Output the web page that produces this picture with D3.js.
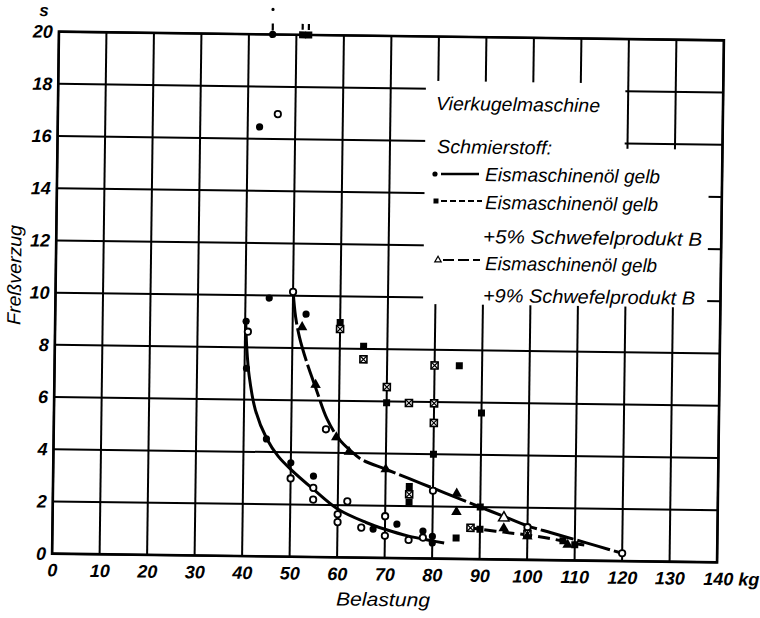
<!DOCTYPE html>
<html><head><meta charset="utf-8">
<script src="https://cdn.jsdelivr.net/npm/d3@7"></script>
<style>body{margin:0;background:#fff}svg{display:block}</style>
</head><body>
<svg id="c" width="760" height="618"></svg>
<script>
// ---------- data ----------
const xTicks = [0,10,20,30,40,50,60,70,80,90,100,110,120,130,140];
const xTickLabels = ["0","10","20","30","40","50","60","70","80","90","100","110","120","130","140 kg"];
const yTicks = [0,2,4,6,8,10,12,14,16,18,20];
const yTickLabels = ["0","2","4","6","8","10","12","14","16","18","20"];

// curve: Eismaschinenöl gelb (solid)
const curveOil = [[40.1,9.1],[40.4,8.0],[41.0,6.9],[42.4,5.6],[44.9,4.5],[47.3,3.85],[50,3.35],[54.8,2.6],[60,1.85],[66,1.35],[70,1.1],[75,0.85],[80,0.68],[82.5,0.6]];
// curve: +5% Schwefelprodukt B (short dashes)
const curve5 = [[87.2,1.22],[90,1.15],[95,1.05],[100,0.95],[105,0.82],[110,0.65],[112,0.6]];
// curve: +9% Schwefelprodukt B (long dashes)
const curve9 = [[50,10.2],[50.6,9.2],[51.5,8.4],[53,7.5],[55,6.5],[57.5,5.3],[60,4.55],[62.5,4.1],[65,3.75],[70,3.4],[75,3.05],[80,2.7],[85,2.35],[90,2.0],[95,1.65],[100,1.3],[105,1.05],[110,0.8],[115,0.55],[120,0.3]];

const circlesFilled = [[42.5,16.45],[40.2,9.0],[40.4,7.2],[44.8,4.5],[50,3.6],[54.8,3.1],[52.8,9.3],[67.5,1.1],[72.5,1.3],[78,1.05],[80,0.85],[80,0.6],[45,9.9]];
const circlesOpen = [[46.3,16.95],[40.6,8.6],[50,3.0],[54.8,2.65],[54.8,2.2],[62,2.15],[60,1.65],[60,1.35],[65,1.15],[70,1.6],[70,0.85],[75,0.7],[78,0.8],[57.3,4.9],[80,2.6],[100,1.25],[120,0.3],[50,10.15]];
const squaresFilled = [[60,9.0],[65,8.1],[70,5.95],[80,4.0],[85.2,7.4],[90,5.6],[75,2.75],[75,2.15],[85,0.8],[90,1.15],[107.5,0.75],[110,0.6],[90,2.0]];
const squaresOpen = [[60,8.75],[65,7.6],[70,6.55],[74.7,5.95],[80,7.4],[80,5.95],[80,5.2],[75,2.45],[100,1.0],[88,1.2]];
const trianglesFilled = [[52,8.8],[55,6.6],[59.5,4.6],[62.2,4.05],[70,3.4],[85,2.5],[85,1.8],[95,1.2],[100,0.9],[108.5,0.6]];
const trianglesOpen = [[95,1.6]];
// points beyond the scale (> 20 s)
const offCircle = [[45,20]];
const offSquares = [[51.3,20],[52.6,20]];

const legendTitle = "Vierkugelmaschine";
const legendSub = "Schmierstoff:";
const legendRows = ["Eismaschinenöl gelb","Eismaschinenöl gelb","+5% Schwefelprodukt B","Eismaschinenöl gelb","+9% Schwefelprodukt B"];

// ---------- layout ----------
const A = 0.75, CX = 388, CY = 297;
function inv(sx, sy){ const r=A*Math.PI/180, dx=sx-CX, dy=sy-CY;
  return [CX + dx*Math.cos(r) + dy*Math.sin(r), CY - dx*Math.sin(r) + dy*Math.cos(r)]; }

const svg = d3.select("#c");
const g = svg.append("g").attr("transform", `rotate(${A},${CX},${CY})`);
const x = d3.scaleLinear().domain([0,140]).range([55.5,720.5]);
const y = d3.scaleLinear().domain([0,20]).range([558,36]);
const FONT = "'Liberation Sans', Arial, sans-serif";

// grid
g.selectAll(".vg").data(xTicks).join("line")
  .attr("x1",d=>x(d)).attr("x2",d=>x(d)).attr("y1",y(0)).attr("y2",y(20))
  .attr("stroke","#000").attr("stroke-width",2);
g.selectAll(".hg").data(yTicks).join("line")
  .attr("y1",d=>y(d)).attr("y2",d=>y(d)).attr("x1",x(0)).attr("x2",x(140))
  .attr("stroke","#000").attr("stroke-width",2);

// legend mask
const masks = [[77.4,119.4,9.75,18.3],[119.4,137.2,9.75,15.8]];
g.selectAll(".mask").data(masks).join("rect")
  .attr("x",d=>x(d[0])).attr("width",d=>x(d[1])-x(d[0]))
  .attr("y",d=>y(d[3])).attr("height",d=>y(d[2])-y(d[3]))
  .attr("fill","#fff");

// frame
g.append("rect").attr("x",x(0)).attr("y",y(20)).attr("width",x(140)-x(0)).attr("height",y(0)-y(20))
  .attr("fill","none").attr("stroke","#000").attr("stroke-width",2.6);

// axes (labels only)
const xAxis = d3.axisBottom(x).tickValues(xTicks).tickSize(0).tickPadding(10)
  .tickFormat((d,i)=>xTickLabels[i]);
const gx = g.append("g").attr("transform",`translate(0,${y(0)})`).call(xAxis);
const yAxis = d3.axisLeft(y).tickValues(yTicks).tickSize(0).tickPadding(6)
  .tickFormat((d,i)=>yTickLabels[i]);
const gy = g.append("g").attr("transform",`translate(${x(0)},0)`).call(yAxis);
[gx,gy].forEach(a=>{ a.select(".domain").remove();
  a.selectAll("text").attr("font-family",FONT).attr("font-size",18).attr("font-style","italic")
   .attr("font-weight","bold").attr("fill","#000"); });
gx.selectAll("text").filter((d,i)=>i===14).attr("text-anchor","start").attr("dx",-14);

// axis titles
let p = inv(44,16);
g.append("text").attr("x",p[0]).attr("y",p[1]).text("s").attr("font-family",FONT).attr("font-size",17)
  .attr("font-style","italic").attr("font-weight","bold").attr("text-anchor","middle");
p = inv(383,606);
g.append("text").attr("x",p[0]).attr("y",p[1]).text("Belastung").attr("font-family",FONT).attr("font-size",19)
  .attr("font-style","italic").attr("text-anchor","middle").attr("textLength",94).attr("lengthAdjust","spacingAndGlyphs");
p = inv(21,275);
g.append("text").attr("transform",`translate(${p[0]},${p[1]}) rotate(-90)`).text("Freßverzug")
  .attr("font-family",FONT).attr("font-size",19).attr("font-style","italic").attr("text-anchor","middle")
  .attr("textLength",100).attr("lengthAdjust","spacingAndGlyphs");

// curves
const line = d3.line().x(d=>x(d[0])).y(d=>y(d[1])).curve(d3.curveCatmullRom.alpha(0.5));
g.append("path").attr("d",line(curveOil)).attr("fill","none").attr("stroke","#000").attr("stroke-width",3);
g.append("path").attr("d",line(curve9)).attr("fill","none").attr("stroke","#000").attr("stroke-width",3).attr("stroke-dasharray","34,4");
g.append("path").attr("d",line(curve5)).attr("fill","none").attr("stroke","#000").attr("stroke-width",3).attr("stroke-dasharray","12,6");

// markers
g.selectAll(".cf").data(circlesFilled).join("circle")
  .attr("cx",d=>x(d[0])).attr("cy",d=>y(d[1])).attr("r",3.6).attr("fill","#000");
g.selectAll(".co").data(circlesOpen).join("circle")
  .attr("cx",d=>x(d[0])).attr("cy",d=>y(d[1])).attr("r",3.2).attr("fill","#fff").attr("stroke","#000").attr("stroke-width",1.8);
const S = 7;
g.selectAll(".sf").data(squaresFilled).join("rect")
  .attr("x",d=>x(d[0])-S/2).attr("y",d=>y(d[1])-S/2).attr("width",S).attr("height",S).attr("fill","#000");
const so = g.selectAll(".so").data(squaresOpen).join("g").attr("transform",d=>`translate(${x(d[0])},${y(d[1])})`);
so.append("rect").attr("x",-S/2).attr("y",-S/2).attr("width",S).attr("height",S).attr("fill","#fff").attr("stroke","#000").attr("stroke-width",1.6);
so.append("path").attr("d",`M${-S/2},${-S/2}L${S/2},${S/2}M${S/2},${-S/2}L${-S/2},${S/2}`).attr("stroke","#000").attr("stroke-width",1.2);
const tri = d3.symbol().type(d3.symbolTriangle).size(48);
g.selectAll(".tf").data(trianglesFilled).join("path").attr("d",tri)
  .attr("transform",d=>`translate(${x(d[0])},${y(d[1])})`).attr("fill","#000");
g.selectAll(".to").data(trianglesOpen).join("path").attr("d",tri)
  .attr("transform",d=>`translate(${x(d[0])},${y(d[1])})`).attr("fill","#fff").attr("stroke","#000").attr("stroke-width",1.5);

// off-scale markers with arrows
g.selectAll(".oc").data(offCircle).join("circle").attr("cx",d=>x(d[0])).attr("cy",d=>y(d[1])).attr("r",3.6).attr("fill","#000");
g.selectAll(".ocb").data(offCircle).join("line").attr("x1",d=>x(d[0])).attr("x2",d=>x(d[0]))
  .attr("y1",d=>y(d[1])-4).attr("y2",d=>y(d[1])-11).attr("stroke","#000").attr("stroke-width",2.2);
g.selectAll(".ocd").data(offCircle).join("circle").attr("cx",d=>x(d[0])).attr("cy",d=>y(d[1])-25).attr("r",1.6).attr("fill","#000");
g.selectAll(".os").data(offSquares).join("rect").attr("x",d=>x(d[0])-S/2).attr("y",d=>y(d[1])-S/2)
  .attr("width",S).attr("height",S).attr("fill","#000");
g.selectAll(".osb").data(offSquares).join("line").attr("x1",d=>x(d[0])).attr("x2",d=>x(d[0]))
  .attr("y1",d=>y(d[1])-5).attr("y2",d=>y(d[1])-11).attr("stroke","#000").attr("stroke-width",2.2);

// legend
function txt(sx, sy, s, w){ const q = inv(sx,sy);
  return g.append("text").attr("x",q[0]).attr("y",q[1]).text(s).attr("font-family",FONT)
   .attr("font-size",19).attr("font-style","italic").attr("textLength",w).attr("lengthAdjust","spacingAndGlyphs"); }
txt(436,110,legendTitle,164);
txt(437,153,legendSub,115);
txt(485,181,legendRows[0],175);
txt(485,209,legendRows[1],173);
txt(483,243,legendRows[2],219);
txt(485,270,legendRows[3],172);
txt(483,302,legendRows[4],212);
// legend symbols
let a = inv(435,174), b = inv(441,174), c = inv(479,174);
g.append("circle").attr("cx",a[0]).attr("cy",a[1]).attr("r",2.6);
g.append("line").attr("x1",b[0]).attr("y1",b[1]).attr("x2",c[0]).attr("y2",c[1]).attr("stroke","#000").attr("stroke-width",2.4);
a = inv(436,201); b = inv(441,201); c = inv(482,201);
g.append("rect").attr("x",a[0]-2.5).attr("y",a[1]-2.5).attr("width",5).attr("height",5);
g.append("line").attr("x1",b[0]).attr("y1",b[1]).attr("x2",c[0]).attr("y2",c[1]).attr("stroke","#000").attr("stroke-width",2.2).attr("stroke-dasharray","6,3");
a = inv(438,260); b = inv(443,260); c = inv(480,260);
g.append("path").attr("d",d3.symbol().type(d3.symbolTriangle).size(18)).attr("transform",`translate(${a[0]},${a[1]})`)
  .attr("fill","#fff").attr("stroke","#000").attr("stroke-width",1.2);
g.append("line").attr("x1",b[0]).attr("y1",b[1]).attr("x2",c[0]).attr("y2",c[1]).attr("stroke","#000").attr("stroke-width",2.2).attr("stroke-dasharray","11,4");
</script>
</body></html>
